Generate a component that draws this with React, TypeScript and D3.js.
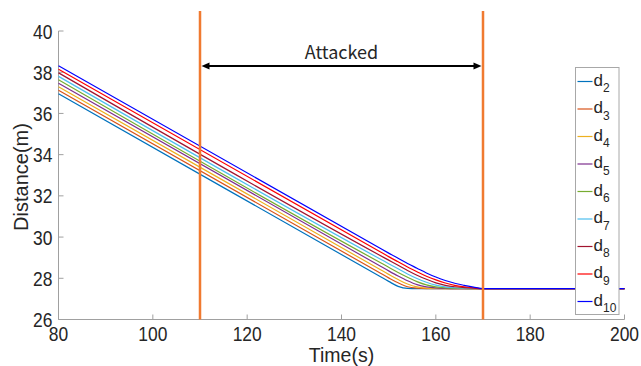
import React from "react";
import * as d3 from "d3";

const times = [80, 148, 150, 152, 154, 156, 158, 160, 162, 164, 166, 168, 170, 200];
const seriesNames = ["2", "3", "4", "5", "6", "7", "8", "9", "10"];
const d2 = [36.95, 28.11, 27.85, 27.61, 27.51, 27.5, 27.5, 27.5, 27.5, 27.5, 27.5, 27.5, 27.5, 27.5];
const d3v = [37.12, 28.28, 28.02, 27.78, 27.59, 27.52, 27.5, 27.5, 27.5, 27.5, 27.5, 27.5, 27.5, 27.5];
const d4 = [37.29, 28.45, 28.19, 27.94, 27.72, 27.58, 27.52, 27.505, 27.5, 27.5, 27.5, 27.5, 27.5, 27.5];
const d5 = [37.46, 28.62, 28.36, 28.11, 27.88, 27.69, 27.58, 27.53, 27.51, 27.5, 27.5, 27.5, 27.5, 27.5];
const d6 = [37.63, 28.79, 28.54, 28.28, 28.05, 27.84, 27.68, 27.58, 27.53, 27.51, 27.505, 27.5, 27.5, 27.5];
const d7 = [37.8, 28.96, 28.71, 28.46, 28.21, 27.99, 27.81, 27.67, 27.58, 27.54, 27.52, 27.51, 27.5, 27.5];
const d8 = [37.97, 29.13, 28.88, 28.63, 28.38, 28.15, 27.95, 27.78, 27.66, 27.59, 27.55, 27.52, 27.5, 27.5];
const d9 = [38.14, 29.31, 29.05, 28.8, 28.55, 28.32, 28.1, 27.92, 27.77, 27.66, 27.59, 27.54, 27.5, 27.5];
const d10 = [38.31, 29.48, 29.22, 28.97, 28.72, 28.49, 28.26, 28.06, 27.89, 27.76, 27.66, 27.57, 27.5, 27.5];
const allSeries = [d2, d3v, d4, d5, d6, d7, d8, d9, d10];
const colors = ["#0072BD", "#D95319", "#EDB120", "#7E2F8E", "#77AC30", "#4DBEEE", "#A2142F", "#FF0000", "#0000FF"];
const xTicks = [80, 100, 120, 140, 160, 180, 200];
const yTicks = [26, 28, 30, 32, 34, 36, 38, 40];
const attackStart = 110;
const attackEnd = 170;
const attackLabel = "Attacked";

const JP = "'Noto Sans CJK JP', 'Noto Sans', sans-serif";
const SANS = "'Liberation Sans', Arial, sans-serif";

export default function App() {
  const left = 58.5, right = 624.5, top = 31, bottom = 319.5;
  const x = d3.scaleLinear().domain([80, 200]).range([left, right]);
  const y = d3.scaleLinear().domain([26, 40]).range([bottom, top]);
  const line = d3
    .line<number>()
    .x((_, i) => x(times[i]))
    .y((v) => y(v))
    .curve(d3.curveMonotoneX);

  const axisColor = "#a0a0a0";
  const textColor = "#262626";
  const arrowY = 66;
  const legX = 575.5, legY = 67.5, legW = 43.5, legH = 247;
  const rowH = 27.5;
  const squeeze = 0.83;

  return (
    <svg
      width={641}
      height={366}
      style={{ position: "fixed", left: 0, top: 0, background: "#fff" }}
      fontFamily={SANS}
    >
      <rect x={0} y={0} width={641} height={366} fill="#fff" />
      {/* axes */}
      <line x1={left} y1={top} x2={left} y2={bottom} stroke={axisColor} strokeWidth={1} />
      <line x1={left} y1={bottom} x2={right} y2={bottom} stroke={axisColor} strokeWidth={1} />
      {xTicks.map((t) => (
        <g key={"x" + t}>
          <line x1={x(t)} x2={x(t)} y1={bottom} y2={bottom - 5} stroke={axisColor} />
          <text
            transform={`translate(${x(t)},340.5) scale(${squeeze},1)`}
            textAnchor="middle"
            fontSize={21}
            fill={textColor}
          >
            {t}
          </text>
        </g>
      ))}
      {yTicks.map((t) => (
        <g key={"y" + t}>
          <line x1={left} x2={left + 5} y1={y(t)} y2={y(t)} stroke={axisColor} />
          <text
            transform={`translate(${left - 6},${y(t) + 7.5}) scale(${squeeze},1)`}
            textAnchor="end"
            fontSize={21}
            fill={textColor}
          >
            {t}
          </text>
        </g>
      ))}
      <text x={(left + right) / 2} y={362} textAnchor="middle" fontSize={19.5} fill={textColor}>
        Time(s)
      </text>
      <text
        transform={`translate(27.5,177) rotate(-90)`}
        textAnchor="middle"
        fontSize={20}
        fill={textColor}
      >
        Distance(m)
      </text>

      {/* series */}
      {allSeries.map((s, i) => (
        <path key={i} d={line(s) || ""} fill="none" stroke={colors[i]} strokeWidth={1.2} />
      ))}

      {/* attack markers */}
      {[attackStart, attackEnd].map((t) => (
        <line key={t} x1={x(t)} x2={x(t)} y1={11} y2={bottom} stroke="#F07A30" strokeWidth={2.5} />
      ))}
      <line x1={x(attackStart) + 6} x2={x(attackEnd) - 6} y1={arrowY} y2={arrowY} stroke="#000" strokeWidth={2} />
      <path d={`M${x(attackStart) + 1.5},${arrowY} l8,-3.5 l0,7 Z`} fill="#000" />
      <path d={`M${x(attackEnd) - 1.5},${arrowY} l-8,-3.5 l0,7 Z`} fill="#000" />
      <text
        x={(x(attackStart) + x(attackEnd)) / 2}
        y={59}
        textAnchor="middle"
        fontSize={18}
        fontFamily={JP}
        fill={textColor}
      >
        {attackLabel}
      </text>

      {/* legend */}
      <rect x={legX} y={legY} width={legW} height={legH} fill="#fff" stroke="#a8a8a8" strokeWidth={1} />
      {seriesNames.map((n, i) => {
        const cy = legY + 14 + i * rowH;
        return (
          <g key={n}>
            <line x1={legX + 2} x2={legX + 17} y1={cy} y2={cy} stroke={colors[i]} strokeWidth={1.2} />
            <text x={legX + 18} y={cy + 4} fontSize={17} fill={textColor}>
              d
              <tspan fontSize={12} dy={6.5}>
                {n}
              </tspan>
            </text>
          </g>
        );
      })}
    </svg>
  );
}
